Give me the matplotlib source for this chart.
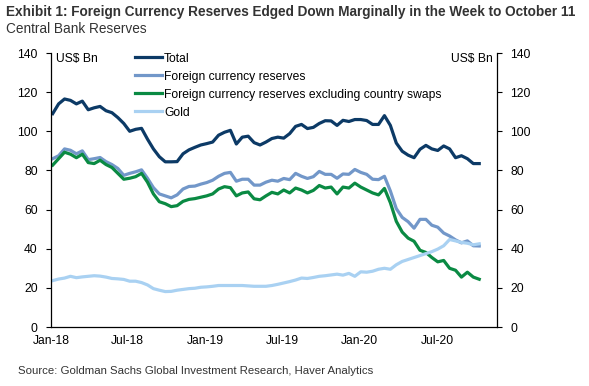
import matplotlib
matplotlib.use("Agg")
import matplotlib.pyplot as plt
import matplotlib.dates as mdates
import numpy as np
import pandas as pd

# Bi-weekly readings, week ending Fridays, Jan 2018 - Oct 2020
dates = pd.date_range("2018-01-05", periods=73, freq="14D")

total = [109, 114, 116.5, 115.8, 114, 115.4, 111, 112, 112.7, 110.5,
         109.5, 107, 104, 100, 101, 101.5, 96, 91, 87, 84.4,
         84.4, 84.5, 88.5, 90.5, 91.8, 93, 93.7, 94.5, 98, 99.5,
         100.5, 93.5, 97, 97.5, 94.2, 93, 94.5, 96.3, 97, 96.5,
         98.8, 102.5, 103.5, 101.4, 102, 104, 105.4, 105.3, 103, 105.6,
         105, 106, 106, 105.5, 103.5, 103.5, 108, 103, 94, 89.8,
         87.8, 86.5, 90.8, 92.8, 91, 90.2, 92.5, 91, 86.5, 87.5,
         86, 83.5, 83.5]

fx_reserves = [86, 87.5, 91, 90.3, 88.5, 90, 85.5, 86, 86.6, 84.5,
               83, 81, 77.5, 78.5, 79.3, 80.3, 76, 71.2, 68, 67,
               66, 67.5, 70.5, 71.8, 72, 73, 73.8, 75, 77, 78.5,
               79, 74.5, 75.5, 75.5, 72.5, 72.5, 74, 75, 74.5, 75.9,
               75.3, 78.5, 77, 75.9, 76.8, 79.5, 78, 78, 76, 78.2,
               78, 80.5, 79, 78, 75.5, 75.3, 77, 69.5, 60.5, 56,
               53.8, 50.5, 55, 55, 52, 51, 48, 46.5, 44.5, 43,
               44, 41.5, 41.4]

fx_ex_swaps = [82.7, 86, 89.3, 88.3, 86.5, 88.3, 84, 83.5, 85.2, 83,
               81.5, 78.5, 75.5, 76, 76.8, 78.5, 74, 68, 64, 63,
               61.5, 62, 64.2, 65.2, 65.6, 66.3, 67, 68, 70.5, 71.7,
               71.2, 67, 68.5, 69, 65.5, 65, 67, 68.8, 68, 70,
               68.5, 71, 70, 68.5, 69.8, 72.3, 71, 71.5, 68, 71.5,
               71, 73.5, 71.5, 70, 68.5, 67.5, 70.8, 63.5, 54, 48.5,
               45.4, 43.8, 39.2, 38.1, 35.5, 33.3, 34, 30, 29, 25.5,
               28, 25.5, 24.4]

gold = [23.7, 24.5, 25, 25.9, 25.2, 25.6, 25.9, 26.2, 26, 25.5,
        24.8, 24.6, 24.3, 23.4, 23.4, 22.7, 21.5, 19.6, 18.8, 18.1,
        18.2, 18.8, 19.2, 19.6, 19.8, 20.3, 20.5, 20.8, 21.2, 21.2,
        21.2, 21.2, 21.2, 21, 20.8, 20.8, 20.8, 21.2, 21.8, 22.5,
        23.2, 24, 25, 24.8, 25.3, 25.9, 26.2, 26.6, 27, 26.5,
        27.4, 25.9, 28.2, 28, 28.5, 29.5, 30, 29.5, 31.8, 33.5,
        34.5, 35.5, 36.5, 37.5, 38.5, 39.8, 41.5, 44.7, 44, 43.2,
        42.8, 42, 42.5]

series_names = ["Total", "Foreign currency reserves",
                "Foreign currency reserves excluding country swaps", "Gold"]
series_colors = ["#0c3a66", "#7297c9", "#0a8a43", "#a9d1f2"]
y_ticks = [0, 20, 40, 60, 80, 100, 120, 140]

plt.rcParams['font.family'] = ['Liberation Sans', 'DejaVu Sans']

W, H = 589, 386
fig = plt.figure(figsize=(W / 100, H / 100), dpi=100)
ax = fig.add_axes([51 / W, 1 - 327 / H, (497 - 51) / W, (327 - 53) / H])

for vals, name, col in zip([total, fx_reserves, fx_ex_swaps, gold], series_names, series_colors):
    ax.plot(dates, vals, color=col, lw=2.3, label=name, solid_joinstyle='round')

ax.set_ylim(0, 140)
ax.set_yticks(y_ticks)
ax.set_xlim(pd.Timestamp("2018-01-01"), pd.Timestamp("2020-11-20"))
ax.xaxis.set_major_locator(mdates.MonthLocator(bymonth=[1, 7]))
ax.xaxis.set_major_formatter(mdates.DateFormatter("%b-%y"))
ax.tick_params(axis='x', length=0, pad=6, labelsize=8.7, colors='#000000')
ax.tick_params(axis='y', which='both', direction='out', length=3.5, width=0.8,
               labelsize=8.7, left=True, right=True, labelleft=True, labelright=True, pad=6)
for s in ['left', 'right', 'bottom']:
    ax.spines[s].set_color('black')
    ax.spines[s].set_linewidth(0.9)
ax.spines['top'].set_visible(False)

ax.text(5 / 446, 1.0, "US$ Bn", transform=ax.transAxes,
        fontsize=8.7, va='top', ha='left')
ax.text(0.99, 1.0, "US$ Bn", transform=ax.transAxes,
        fontsize=8.7, va='top', ha='right')

leg = ax.legend(loc='upper left', bbox_to_anchor=(135 / W, 1 - 52.5 / H),
                bbox_transform=fig.transFigure, frameon=False, fontsize=8.7,
                handlelength=2.2, handletextpad=0.2, labelspacing=0.5,
                borderpad=0, borderaxespad=0)

fig.text(6 / W, 1 - 12 / H, "Exhibit 1: Foreign Currency Reserves Edged Down Marginally in the Week to October 11",
         fontsize=9.85, fontweight='bold', color='#333333', va='center', ha='left')
fig.text(6 / W, 1 - 29 / H, "Central Bank Reserves", fontsize=9.8, color='#333333',
         va='center', ha='left')
fig.text(18 / W, 1 - 371 / H, "Source: Goldman Sachs Global Investment Research, Haver Analytics",
         fontsize=8.2, color='#333333', va='center', ha='left')

fig.savefig("out.png", dpi=100)
